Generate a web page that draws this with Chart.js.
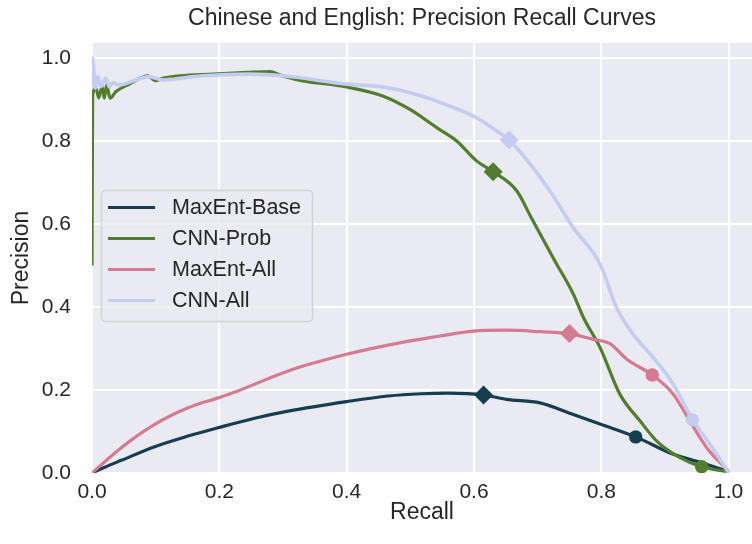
<!DOCTYPE html>
<html><head><meta charset="utf-8">
<script src="https://cdn.jsdelivr.net/npm/chart.js@4.4.0/dist/chart.umd.min.js"></script>
<style>html,body{margin:0;padding:0;background:#fff;}canvas{display:block;}</style>
</head><body>
<canvas id="c" width="752" height="544"></canvas>
<script>
const chartTitle = 'Chinese and English: Precision Recall Curves';
const xLabel = 'Recall';
const yLabel = 'Precision';
const seriesNames = ['MaxEnt-Base', 'CNN-Prob', 'MaxEnt-All', 'CNN-All'];
const seriesColors = ['#173d50', '#537d2e', '#d47a91', '#c4cdf1'];
const tickValues = [0, 0.2, 0.4, 0.6, 0.8, 1.0];

const maxentBaseRecall = [0, 0.02, 0.046, 0.0985, 0.151, 0.198, 0.2555, 0.308, 0.40, 0.465, 0.517, 0.559, 0.615, 0.651, 0.7036, 0.756, 0.80, 0.854, 0.913, 0.955, 1.0];
const maxentBasePrecision = [0, 0.014, 0.0305, 0.0635, 0.089, 0.109, 0.132, 0.149, 0.172, 0.1855, 0.191, 0.1925, 0.188, 0.1775, 0.169, 0.141, 0.117, 0.087, 0.045, 0.0257, 0.003];

const cnnProbRecall = [0, 0.001, 0.0063, 0.0105, 0.0157, 0.0194, 0.023, 0.0283, 0.0377, 0.0586, 0.088, 0.099, 0.111, 0.138, 0.19, 0.243, 0.28, 0.295, 0.327, 0.40, 0.4575, 0.4995, 0.5414, 0.5728, 0.604, 0.630, 0.667, 0.690, 0.727, 0.756, 0.772, 0.798, 0.829, 0.861, 0.887, 0.9235, 0.9575, 1.0];
const cnnProbPrecision = [0.5, 0.91, 0.927, 0.904, 0.931, 0.903, 0.935, 0.903, 0.919, 0.937, 0.957, 0.945, 0.951, 0.957, 0.961, 0.965, 0.967, 0.959, 0.946, 0.930, 0.908, 0.876, 0.832, 0.80, 0.752, 0.726, 0.68, 0.615, 0.511, 0.431, 0.374, 0.302, 0.19, 0.125, 0.077, 0.037, 0.015, 0.003];

const maxentAllRecall = [0, 0.046, 0.0985, 0.151, 0.198, 0.229, 0.308, 0.40, 0.491, 0.5466, 0.599, 0.651, 0.7036, 0.7497, 0.787, 0.8136, 0.84, 0.880, 0.913, 0.939, 0.9655, 1.0];
const maxentAllPrecision = [0, 0.061, 0.117, 0.157, 0.181, 0.1976, 0.246, 0.286, 0.316, 0.33, 0.342, 0.344, 0.3405, 0.3357, 0.322, 0.3116, 0.274, 0.236, 0.19, 0.125, 0.061, 0.004];

const cnnAllRecall = [0, 0.001, 0.0052, 0.009, 0.014, 0.022, 0.027, 0.0325, 0.043, 0.069, 0.09, 0.111, 0.148, 0.174, 0.248, 0.30, 0.40, 0.4575, 0.51, 0.562, 0.604, 0.6356, 0.655, 0.688, 0.719, 0.756, 0.798, 0.824, 0.850, 0.8816, 0.913, 0.9434, 0.9706, 1.0];
const cnnAllPrecision = [0.93, 0.999, 0.927, 0.955, 0.931, 0.951, 0.931, 0.94, 0.935, 0.947, 0.955, 0.947, 0.953, 0.957, 0.961, 0.957, 0.937, 0.93, 0.912, 0.884, 0.856, 0.824, 0.802, 0.745, 0.68, 0.591, 0.503, 0.398, 0.334, 0.278, 0.214, 0.128, 0.069, 0.0];

const diamondRecall = [0.615, 0.630, 0.750, 0.655];
const diamondPrecision = [0.188, 0.726, 0.336, 0.802];
const circleRecall = [0.854, 0.9575, 0.880, 0.943];
const circlePrecision = [0.087, 0.015, 0.236, 0.128];

const recallSets = [maxentBaseRecall, cnnProbRecall, maxentAllRecall, cnnAllRecall];
const precisionSets = [maxentBasePrecision, cnnProbPrecision, maxentAllPrecision, cnnAllPrecision];

const fam = "'Liberation Sans', Arial, sans-serif";
const textColor = '#262626';

const datasets = [];
seriesNames.forEach((name, i) => {
  datasets.push({
    label: name,
    data: recallSets[i].map((x, k) => ({x: x, y: precisionSets[i][k]})),
    showLine: true,
    borderColor: seriesColors[i],
    backgroundColor: seriesColors[i],
    borderWidth: i === 3 ? 3.6 : 3.2,
    pointRadius: 0,
    cubicInterpolationMode: 'monotone',
    fill: false,
    order: 10 - i
  });
});
seriesNames.forEach((name, i) => {
  datasets.push({
    label: name + ' diamond',
    data: [{x: diamondRecall[i], y: diamondPrecision[i]}],
    showLine: false,
    pointStyle: 'rectRot',
    pointRadius: 9.5,
    backgroundColor: seriesColors[i],
    borderColor: seriesColors[i],
    borderWidth: 0,
    order: 5 - i
  });
  datasets.push({
    label: name + ' circle',
    data: [{x: circleRecall[i], y: circlePrecision[i]}],
    showLine: false,
    pointStyle: 'circle',
    pointRadius: 6.7,
    backgroundColor: seriesColors[i],
    borderColor: seriesColors[i],
    borderWidth: 0,
    order: 5 - i
  });
});

const bgPlugin = {
  id: 'bg',
  beforeDraw(chart) {
    const {ctx, chartArea: a} = chart;
    ctx.save();
    ctx.fillStyle = '#eaeaf2';
    ctx.fillRect(a.left, a.top, a.right - a.left, a.bottom - a.top);
    ctx.restore();
  }
};

const titlePlugin = {
  id: 'ttl',
  afterDraw(chart) {
    const {ctx, chartArea: a} = chart;
    ctx.save();
    ctx.font = '23px ' + fam;
    ctx.fillStyle = textColor;
    ctx.textAlign = 'center';
    ctx.textBaseline = 'middle';
    ctx.fillText(chartTitle, (a.left + a.right) / 2, 19);
    ctx.restore();
  }
};

const legendPlugin = {
  id: 'lgd',
  afterDatasetsDraw(chart) {
    const ctx = chart.ctx;
    ctx.save();
    const bx = 101.5, by = 190.5, bw = 211, bh = 131, r = 4;
    ctx.beginPath();
    ctx.moveTo(bx + r, by);
    ctx.arcTo(bx + bw, by, bx + bw, by + bh, r);
    ctx.arcTo(bx + bw, by + bh, bx, by + bh, r);
    ctx.arcTo(bx, by + bh, bx, by, r);
    ctx.arcTo(bx, by, bx + bw, by, r);
    ctx.closePath();
    ctx.fillStyle = 'rgba(234,234,242,0.8)';
    ctx.fill();
    ctx.strokeStyle = '#d2d2d8';
    ctx.lineWidth = 1.5;
    ctx.stroke();
    ctx.font = '21.5px ' + fam;
    ctx.textBaseline = 'middle';
    ctx.textAlign = 'left';
    seriesNames.forEach((name, i) => {
      const y = 207.5 + i * 31;
      ctx.beginPath();
      ctx.moveTo(108, y);
      ctx.lineTo(155, y);
      ctx.strokeStyle = seriesColors[i];
      ctx.lineWidth = 3.2;
      ctx.stroke();
      ctx.fillStyle = textColor;
      ctx.fillText(name, 172, y + 1);
    });
    ctx.restore();
  }
};

const setTicks = s => { s.ticks = tickValues.map(v => ({value: v})); };

new Chart(document.getElementById('c').getContext('2d'), {
  type: 'scatter',
  data: {datasets},
  options: {
    responsive: false,
    animation: false,
    devicePixelRatio: 1,
    layout: {autoPadding: false, padding: {top: 43, left: 0, right: 0, bottom: 0}},
    plugins: {legend: {display: false}, tooltip: {enabled: false}, title: {display: false}},
    scales: {
      x: {
        type: 'linear', min: 0, max: 1.0366,
        afterBuildTicks: setTicks,
        afterFit: s => { s.height = 71; s.paddingLeft = 0; s.paddingRight = 0; },
        grid: {color: '#ffffff', lineWidth: 2, drawTicks: false, tickLength: 0},
        border: {display: false},
        ticks: {padding: 7, color: textColor, font: {family: fam, size: 21}, callback: v => Number(v).toFixed(1)},
        title: {display: true, text: xLabel, color: textColor, font: {family: fam, size: 23}, padding: {top: 0, bottom: 18}}
      },
      y: {
        type: 'linear', min: 0, max: 1.036,
        afterBuildTicks: setTicks,
        afterFit: s => { s.width = 92; s.paddingTop = 0; s.paddingBottom = 0; },
        grid: {color: '#ffffff', lineWidth: 2, drawTicks: false, tickLength: 0},
        border: {display: false},
        ticks: {padding: 21, color: textColor, font: {family: fam, size: 21}, callback: v => Number(v).toFixed(1)},
        title: {display: true, text: yLabel, color: textColor, font: {family: fam, size: 23}, padding: {top: 8, bottom: 0}}
      }
    }
  },
  plugins: [bgPlugin, titlePlugin, legendPlugin]
});
</script>
</body></html>
